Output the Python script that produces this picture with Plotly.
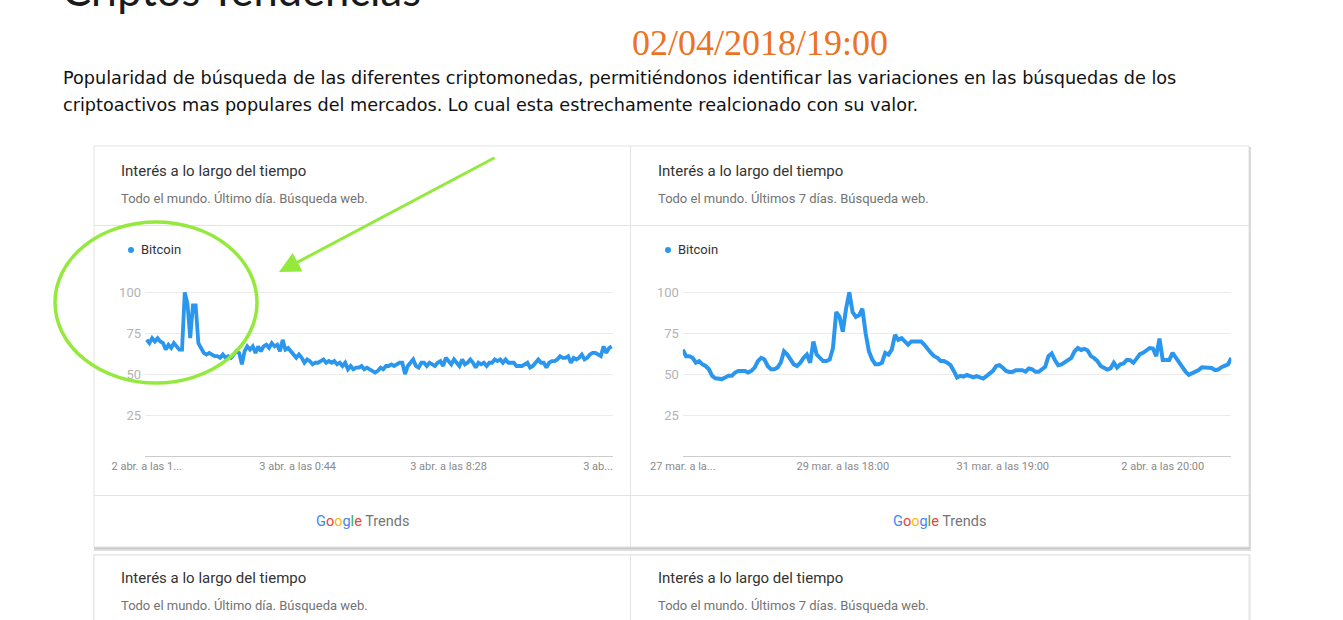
import plotly.graph_objects as go

W, H = 1343, 620

# ---------------- data ----------------
series_name = "Bitcoin"
yticks = [25, 50, 75, 100]

day_labels = ["2 abr. a las 1...", "3 abr. a las 0:44", "3 abr. a las 8:28", "3 ab..."]
day_tick_idx = [0, 55.5, 111, 166]
bitcoin_day = [
    71, 69, 72, 70, 72, 70, 69, 65, 68, 66, 69, 67, 65, 65,
    100, 93, 72, 92, 92, 69, 66, 63, 62, 63, 62, 61, 61, 60, 62, 60, 61, 60, 62, 64,
    63, 56, 64, 67, 65, 67, 63, 67, 64, 67, 68, 66, 69, 67, 68, 64, 71, 65, 66, 64, 62,
    60, 62, 60, 57, 59, 58, 56, 57, 57, 58, 59, 57, 58, 57, 58, 56, 57, 55, 57, 53,
    55, 53, 54, 54, 55, 53, 54, 53, 52, 51, 52, 54, 53, 55, 55, 56, 55, 56, 57, 57,
    50, 55, 57, 59, 55, 54, 57, 57, 55, 57, 56, 55, 57, 58, 55, 60,
    58, 56, 59, 57, 55, 59, 56, 57, 59, 57, 54, 57, 56, 57, 55, 57, 57, 59, 58, 59,
    57, 59, 57, 57, 57, 55, 55, 55, 56, 57, 54, 55, 57, 59, 57, 57, 54, 57, 58, 58,
    59, 61, 60, 60, 61, 57, 60, 59, 60, 62, 59, 60, 62, 63, 63, 62, 61, 67, 63, 66, 67,
]

week_labels = ["27 mar. a la...", "29 mar. a las 18:00", "31 mar. a las 19:00", "2 abr. a las 20:00"]
week_tick_idx = [0, 49, 98, 147]
bitcoin_week = [
    65, 61, 61, 60, 57, 58, 56, 55, 53, 49,
    47.5, 47, 47, 48, 49, 49, 51, 52, 52, 52,
    51, 52, 54, 58, 60, 59, 55, 53, 53, 54,
    57, 64, 62, 59, 56, 55, 57, 60, 62, 57,
    70, 62, 60, 58, 58, 59, 66, 88, 85, 76,
    90, 100, 88, 85, 86, 90, 75, 64, 59, 56,
    56, 57, 63, 62, 65, 74, 71, 72, 70, 68,
    70, 70, 70, 70, 68, 65, 63, 61, 60, 58,
    58, 57, 55.5, 52, 48, 49, 48.5, 49.5, 48.5, 48,
    48.8, 48, 47.3, 48.8, 50.5, 52, 55, 55.5, 54, 52,
    51.4, 51.4, 52.4, 52.4, 52.4, 51.5, 53.5, 53, 51.5, 51.5,
    53, 54.5, 61, 62.7, 58.5, 55.5, 56, 57.5, 58.4, 60,
    64, 66, 64.8, 65.5, 64.5, 61, 59.8, 58, 55, 54,
    52.8, 53.5, 57, 54, 56, 56.5, 58.8, 58.5, 57, 59.5,
    62.3, 63.1, 64.5, 66, 65.7, 61, 71.8, 58.6, 58.6, 58.6,
    63, 60, 57, 54.5, 51.5, 49.6, 50.5, 51.2, 52.5, 54.2,
    54, 53.4, 53.8, 52.5, 52.8, 54.3, 55.5, 56, 60,
]

page_title = "Criptos Tendencias"
stamp = "02/04/2018/19:00"
para1 = "Popularidad de búsqueda de las diferentes criptomonedas, permitiéndonos identificar las variaciones en las búsquedas de los"
para2 = "criptoactivos mas populares del mercados. Lo cual esta estrechamente realcionado con su valor."
card_title = "Interés a lo largo del tiempo"
card_sub_day = "Todo el mundo. Último día. Búsqueda web."
card_sub_week = "Todo el mundo. Últimos 7 días. Búsqueda web."

# ---------------- helpers (layout positions in pixels) ----------------
def px(x):
    return x / W

def py(y):
    return 1 - y / H

LINE = "#2b96ee"
GRID = "#ebebeb"
BORDER = "#e3e3e3"
FONT = "Roboto"

fig = go.Figure()
fig.add_trace(go.Scatter(x=list(range(len(bitcoin_day))), y=bitcoin_day, mode="lines",
                         line=dict(color=LINE, width=3.8), xaxis="x", yaxis="y",
                         name=series_name, hoverinfo="skip"))
fig.add_trace(go.Scatter(x=list(range(len(bitcoin_week))), y=bitcoin_week, mode="lines",
                         line=dict(color=LINE, width=4), xaxis="x2", yaxis="y2",
                         name=series_name, hoverinfo="skip"))

ydom = [py(456), py(276)]
n1 = len(bitcoin_day) - 1
step1 = (611.7 - 146.7) / n1
x1_range = [-(146.7 - 145) / step1, n1 + (613 - 611.7) / step1]

common_x = dict(showgrid=False, zeroline=False, showline=True, linecolor="#cccccc", linewidth=1,
                ticks="", automargin=False,
                tickfont=dict(family=FONT, size=11, color="#8a8a8a"), fixedrange=True)
common_y = dict(range=[0, 110], tickvals=yticks, showgrid=True, gridcolor=GRID, gridwidth=1,
                zeroline=False, showline=False, ticks="", automargin=False, ticklabelstandoff=3,
                tickfont=dict(family=FONT, size=13, color="#b3b3b3"), fixedrange=True)

fig.update_layout(
    template="none",
    width=W, height=H, margin=dict(l=0, r=0, t=0, b=0, pad=0, autoexpand=False),
    paper_bgcolor="white", plot_bgcolor="rgba(0,0,0,0)", showlegend=False,
    xaxis=dict(domain=[px(145), px(613)], range=x1_range, tickvals=day_tick_idx,
               ticktext=day_labels, anchor="y", **common_x),
    yaxis=dict(domain=ydom, anchor="x", **common_y),
    xaxis2=dict(domain=[px(682.8), px(1231.3)], range=[0, len(bitcoin_week) - 1],
                tickvals=week_tick_idx, ticktext=week_labels, anchor="y2", **common_x),
    yaxis2=dict(domain=ydom, anchor="x2", **common_y),
)

shapes = []
# card shadows
shapes.append(dict(type="rect", xref="paper", yref="paper", x0=px(94), x1=px(1251), y0=py(551), y1=py(147),
                   fillcolor="#dedede", line=dict(width=0), layer="below"))
shapes.append(dict(type="rect", xref="paper", yref="paper", x0=px(94), x1=px(1250), y0=py(549), y1=py(147),
                   fillcolor="#c8c8c8", line=dict(width=0), layer="below"))
# main card
shapes.append(dict(type="rect", xref="paper", yref="paper", x0=px(94), x1=px(1249), y0=py(547), y1=py(146),
                   fillcolor="white", line=dict(color=BORDER, width=1), layer="below"))
for yy in (225.5, 495.5):
    shapes.append(dict(type="line", xref="paper", yref="paper", x0=px(94), x1=px(1249), y0=py(yy), y1=py(yy),
                       line=dict(color=BORDER, width=1), layer="below"))
shapes.append(dict(type="line", xref="paper", yref="paper", x0=px(630.5), x1=px(630.5), y0=py(547), y1=py(146),
                   line=dict(color=BORDER, width=1), layer="below"))
# second row cards
shapes.append(dict(type="rect", xref="paper", yref="paper", x0=px(93), x1=px(1251), y0=py(630), y1=py(554),
                   fillcolor="#eeeeee", line=dict(width=0), layer="below"))
shapes.append(dict(type="rect", xref="paper", yref="paper", x0=px(94), x1=px(1249), y0=py(630), y1=py(555),
                   fillcolor="white", line=dict(color=BORDER, width=1), layer="below"))
shapes.append(dict(type="line", xref="paper", yref="paper", x0=px(630.5), x1=px(630.5), y0=py(630), y1=py(555),
                   line=dict(color=BORDER, width=1), layer="below"))
# legend dots
for cx in (131, 668):
    shapes.append(dict(type="circle", xref="paper", yref="paper", x0=px(cx - 3), x1=px(cx + 3),
                       y0=py(253), y1=py(247), fillcolor=LINE, line=dict(width=0)))
# green hand-drawn ellipse
shapes.append(dict(type="circle", xref="paper", yref="paper", x0=px(55), x1=px(257), y0=py(383), y1=py(222),
                   line=dict(color="#94ea3c", width=3.5), layer="above"))
fig.update_layout(shapes=shapes)

ann = []
def text(x, y, s, size, color, family=FONT, xanchor="left", yanchor="middle"):
    ann.append(dict(xref="paper", yref="paper", x=px(x), y=py(y), text=s, showarrow=False,
                    xanchor=xanchor, yanchor=yanchor, font=dict(family=family, size=size, color=color)))

text(60, 17, page_title, 43.5, "#1a1a1a", family="Lato", yanchor="bottom")
text(759.5, 43, stamp, 36, "#ec7322", family="Liberation Serif", xanchor="center")
text(61, 78, para1, 17.65, "#111111", family="DejaVu Sans")
text(61, 105, para2, 17.65, "#111111", family="DejaVu Sans")

for x0, sub in ((119, card_sub_day), (656, card_sub_week)):
    text(x0, 171, card_title, 15, "#333333")
    text(x0, 198, sub, 13, "#737373")
    text(x0, 578, card_title, 15, "#333333")
    text(x0, 605, sub, 13, "#737373")

text(139, 250, series_name, 13, "#333333")
text(676, 250, series_name, 13, "#333333")

logo = ("<span style='color:#4285F4'>G</span><span style='color:#EA4335'>o</span>"
        "<span style='color:#FBBC05'>o</span><span style='color:#4285F4'>g</span>"
        "<span style='color:#34A853'>l</span><span style='color:#EA4335'>e</span>"
        "<span style='color:#757575'> Trends</span>")
text(362, 521, logo, 14.5, "#757575", xanchor="center")
text(939, 521, logo, 14.5, "#757575", xanchor="center")

# green arrow
ann.append(dict(xref="paper", yref="paper", x=px(279), y=py(272), ax=496 - 279, ay=157 - 272,
                axref="pixel", ayref="pixel", text="", showarrow=True, arrowhead=2, arrowsize=1.4,
                arrowwidth=3, arrowcolor="#94ea3c"))
fig.update_layout(annotations=ann)

fig.write_html("out.html")
